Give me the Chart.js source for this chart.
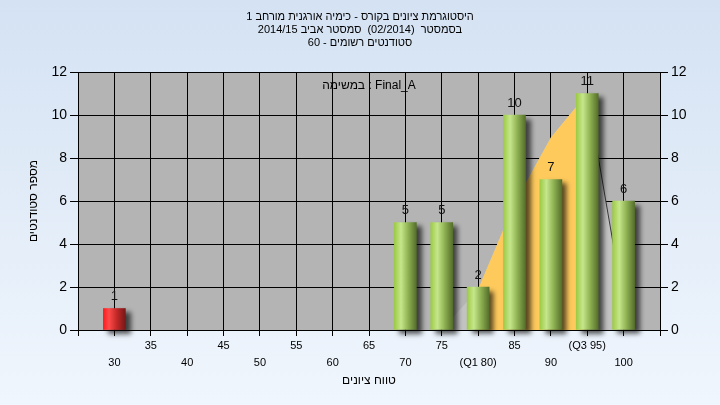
<!DOCTYPE html>
<html>
<head>
<meta charset="utf-8">
<script src="https://cdn.jsdelivr.net/npm/chart.js@4"></script>
<style>
  html, body { margin: 0; padding: 0; }
  canvas { display: block; }
</style>
</head>
<body>
<canvas id="hist" width="720" height="405"></canvas>
<script>
// grade buckets and number of students in each
const grades = [30, 35, 40, 45, 50, 55, 60, 65, 70, 75, 80, 85, 90, 95, 100];
const counts = [1, 0, 0, 0, 0, 0, 0, 0, 5, 5, 2, 10, 7, 11, 6];
const q1 = 80;
const q3 = 95;
const passGrade = 60;

// distribution curve drawn behind the bars
const curveX = [75, 80, 85, 90, 95, 100];
const curveY = [0, 1.9, 5.9, 8.95, 11, 1.2];

const titleLines = [
  'היסטוגרמת ציונים בקורס - כימיה אורגנית מורחב 1',
  'בסמסטר  (02/2014)  סמסטר אביב 2014/15',
  'סטודנטים רשומים - 60'
];
const taskLabel = 'במשימה : Final_A';
const xTitle = 'טווח ציונים';
const yTitle = 'מספר סטודנטים';

const FONT = 'Liberation Sans, Arial, sans-serif';

function barFill(c) {
  const chart = c.chart;
  const v = c.raw ? c.raw.x : 0;
  const red = v < passGrade;
  if (!chart.chartArea) return red ? '#e02020' : '#8fbf45';
  const px = chart.scales.x.getPixelForValue(v);
  const g = chart.ctx.createLinearGradient(px - 11, 0, px + 11, 0);
  if (red) {
    g.addColorStop(0, '#ff1c1c');
    g.addColorStop(0.25, '#ff4a4a');
    g.addColorStop(0.6, '#c42828');
    g.addColorStop(1, '#761818');
  } else {
    g.addColorStop(0, '#9ccb45');
    g.addColorStop(0.3, '#c6e68c');
    g.addColorStop(0.6, '#93b656');
    g.addColorStop(1, '#556f2b');
  }
  return g;
}

const bgPlugin = {
  id: 'bg',
  beforeDraw(chart) {
    const { ctx, chartArea: a, width, height } = chart;
    ctx.save();
    const g = ctx.createLinearGradient(0, 0, 0, height);
    g.addColorStop(0, '#d4e2f3');
    g.addColorStop(1, '#f0f6fd');
    ctx.fillStyle = g;
    ctx.fillRect(0, 0, width, height);
    ctx.fillStyle = '#b4b4b4';
    ctx.fillRect(a.left, a.top, a.right - a.left, a.bottom - a.top);
    ctx.restore();
  }
};

const shadowPlugin = {
  id: 'barShadow',
  beforeDatasetDraw(chart, args) {
    if (args.index !== 0) return;
    const ctx = chart.ctx;
    ctx.save();
    ctx.shadowColor = 'rgba(0,0,0,0.65)';
    ctx.shadowBlur = 5;
    ctx.shadowOffsetX = 5;
    ctx.shadowOffsetY = 4;
  },
  afterDatasetDraw(chart, args) {
    if (args.index !== 0) return;
    chart.ctx.restore();
  }
};

const labelPlugin = {
  id: 'valueLabels',
  afterDatasetsDraw(chart) {
    const ctx = chart.ctx;
    const a = chart.chartArea;
    const meta = chart.getDatasetMeta(0);
    ctx.save();
    ctx.textAlign = 'center';
    ctx.textBaseline = 'middle';
    ctx.font = '13px ' + FONT;
    ctx.fillStyle = '#111';
    meta.data.forEach((el, i) => {
      if (!counts[i]) return;
      ctx.fillText(String(counts[i]), el.x, el.y - 12);
    });
    ctx.font = '12px ' + FONT;
    ctx.fillStyle = '#000';
    ctx.fillText(taskLabel, (a.left + a.right) / 2, a.top + 14);
    ctx.restore();
  }
};

new Chart(document.getElementById('hist'), {
  type: 'bar',
  data: {
    datasets: [
      {
        data: grades.map((g, i) => ({ x: g, y: counts[i] || null })),
        backgroundColor: barFill,
        barThickness: 22,
        order: 0,
        clip: 12
      },
      {
        type: 'line',
        data: curveX.filter(x => x >= q1 && x <= q3).map(x => ({ x: x, y: curveY[curveX.indexOf(x)] })),
        backgroundColor: '#ffca5c',
        borderWidth: 0,
        pointRadius: 0,
        fill: 'origin',
        order: 1
      },
      {
        type: 'line',
        data: curveX.map((x, i) => ({ x: x, y: curveY[i] })),
        backgroundColor: '#c2c2c2',
        borderWidth: 1,
        borderColor: 'rgba(0,0,0,0)',
        segment: {
          borderColor: s => s.p0.parsed.x >= q3 ? '#3a3a3a' : 'rgba(0,0,0,0)'
        },
        pointRadius: 0,
        fill: 'origin',
        order: 2
      }
    ]
  },
  options: {
    responsive: false,
    animation: false,
    devicePixelRatio: 1,
    layout: { padding: 0 },
    plugins: {
      legend: { display: false },
      tooltip: { enabled: false },
      title: {
        display: true,
        text: titleLines,
        color: '#000',
        font: { family: FONT, size: 11, weight: 'normal', lineHeight: '13px' },
        padding: { top: 10.5, bottom: 22.5 }
      }
    },
    scales: {
      x: {
        type: 'linear',
        min: 25,
        max: 105,
        offset: false,
        afterFit: s => { s.height = 75; },
        grid: { offset: false, color: '#000', lineWidth: 1, tickLength: 6 },
        border: { color: '#000', width: 1 },
        ticks: {
          stepSize: 5,
          autoSkip: false,
          maxRotation: 0,
          padding: 1,
          color: '#000',
          font: { family: FONT, size: 11, lineHeight: '17px' },
          callback: v => {
            const i = grades.indexOf(v);
            if (i < 0) return '';
            const t = v === q1 ? '(Q1 ' + v + ')' : v === q3 ? '(Q3 ' + v + ')' : String(v);
            return i % 2 === 1 ? [t, ''] : ['', t];
          }
        },
        title: {
          display: true,
          text: xTitle,
          color: '#000',
          font: { family: FONT, size: 12 },
          padding: { top: 0, bottom: 17 }
        }
      },
      y: {
        position: 'left',
        min: 0,
        max: 12,
        afterFit: s => { s.width = 78; },
        grid: { color: '#000', lineWidth: 1, tickLength: 8 },
        border: { color: '#000', width: 1 },
        ticks: { stepSize: 2, padding: 3, color: '#000', font: { family: FONT, size: 14 } },
        title: {
          display: true,
          text: yTitle,
          color: '#000',
          font: { family: FONT, size: 12 },
          padding: { top: 26, bottom: 0 }
        }
      },
      y2: {
        position: 'right',
        min: 0,
        max: 12,
        afterFit: s => { s.width = 60; },
        grid: { drawOnChartArea: false, color: '#000', lineWidth: 1, tickLength: 8 },
        border: { color: '#000', width: 1 },
        ticks: { stepSize: 2, padding: 3, color: '#000', font: { family: FONT, size: 14 } }
      }
    }
  },
  plugins: [bgPlugin, shadowPlugin, labelPlugin]
});
</script>
</body>
</html>
